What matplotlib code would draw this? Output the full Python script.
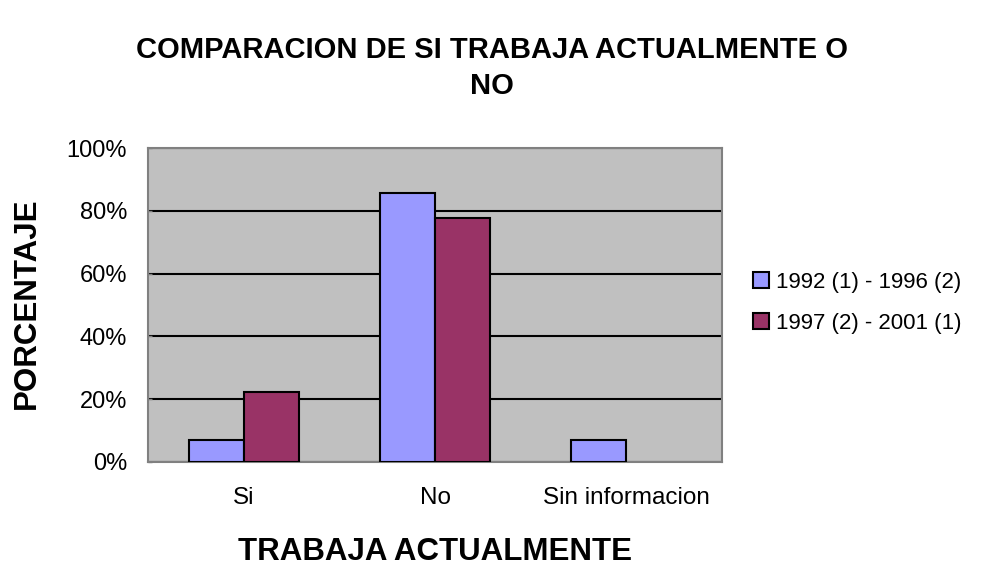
import matplotlib
matplotlib.use("Agg")
import matplotlib.pyplot as plt
import numpy as np
from matplotlib.ticker import FuncFormatter

categories = ["Si", "No", "Sin informacion"]
series_names = ["1992 (1) - 1996 (2)", "1997 (2) - 2001 (1)"]
serie1 = [7.1, 85.7, 7.1]
serie2 = [22.2, 77.8, 0.0]
colors = ["#9999FF", "#993366"]

plt.rcParams['font.family'] = ['Liberation Sans', 'DejaVu Sans']

fig = plt.figure(figsize=(9.92, 5.66), dpi=100)
ax = fig.add_axes([148/992, 1-462/566, (722-148)/992, (462-148)/566])
ax.set_facecolor("#C0C0C0")

x = np.arange(len(categories))
w = 0.288
b1 = ax.bar(x - w/2, serie1, w, color=colors[0], edgecolor="black", linewidth=1.5, label=series_names[0], zorder=3)
vals2 = [v if v > 0 else np.nan for v in serie2]
b2 = ax.bar(x + w/2, vals2, w, color=colors[1], edgecolor="black", linewidth=1.5, label=series_names[1], zorder=3)

ax.set_xlim(-0.5, 2.5)
ax.set_ylim(0, 100)
ax.set_yticks(np.arange(0, 101, 20))
ax.yaxis.set_major_formatter(FuncFormatter(lambda v, p: f"{int(v)}%"))
ax.grid(axis='y', color='black', linewidth=1.5, zorder=1)
ax.set_axisbelow(True)
ax.set_xticks(x)
ax.set_xticklabels(categories)
ax.tick_params(axis='x', length=0, labelsize=17.5, pad=18)
ax.tick_params(axis='y', direction='in', length=3, width=1, color='#808080', labelsize=17, pad=15)
for s in ax.spines.values():
    s.set_color('#808080')
    s.set_linewidth(1.5)

fig.text(435/992, 1-552/566, "TRABAJA ACTUALMENTE", ha='center', va='center', fontsize=22.5, fontweight='bold')
fig.text(27/992, 1-303/566, "PORCENTAJE", ha='center', va='center', rotation=90, fontsize=22.5, fontweight='bold')

fig.text(492/992, 1-50/566, "COMPARACION DE SI TRABAJA ACTUALMENTE O", ha='center', va='center', fontsize=21, fontweight='bold')
fig.text(492/992, 1-86/566, "NO", ha='center', va='center', fontsize=21, fontweight='bold')

leg = fig.legend(handles=[b1, b2], labels=series_names, loc='center left', bbox_to_anchor=(753/992, 1-303/566),
                 frameon=False, fontsize=16, handlelength=0.7, handleheight=0.7, handletextpad=0.35,
                 labelspacing=0.9, borderpad=0, borderaxespad=0)

fig.savefig("out.png", dpi=100)
